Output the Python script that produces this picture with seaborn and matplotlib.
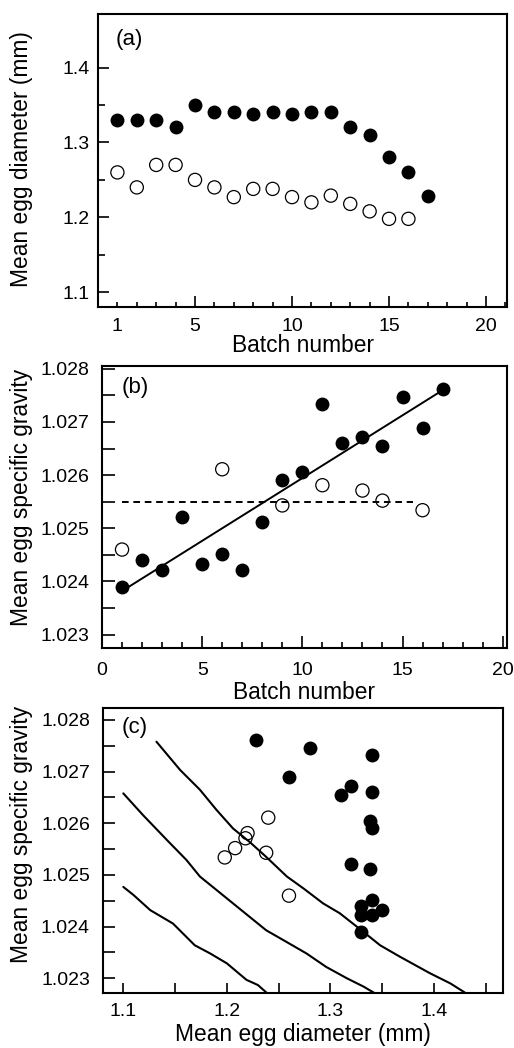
import numpy as np
import pandas as pd
import matplotlib
matplotlib.use("Agg")
import matplotlib.pyplot as plt
from matplotlib.ticker import MultipleLocator, FixedLocator, FormatStrFormatter
import seaborn as sns

# ---- data -----------------------------------------------------------------
batches_solid = list(range(1, 18))
batches_open = list(range(1, 17))

# mean egg diameter (mm) per batch
diam_solid = [1.33, 1.33, 1.33, 1.32, 1.35, 1.34, 1.34, 1.338, 1.34, 1.338,
              1.34, 1.34, 1.32, 1.31, 1.28, 1.26, 1.228]
diam_open = [1.26, 1.24, 1.27, 1.27, 1.25, 1.24, 1.227, 1.238, 1.238, 1.227,
             1.22, 1.229, 1.218, 1.208, 1.198, 1.198]

# mean egg specific gravity per batch
sg_solid = [1.02390, 1.02440, 1.02422, 1.02522, 1.02433, 1.02451, 1.02422,
            1.02511, 1.02590, 1.02605, 1.02733, 1.02661, 1.02672, 1.02655,
            1.02746, 1.02689, 1.02762]
sg_open_batches = [1, 6, 9, 11, 13, 14, 16]
sg_open = [1.02460, 1.02611, 1.02543, 1.02581, 1.02571, 1.02552, 1.02534]

# neutral-buoyancy isolines (diameter, specific gravity)
iso1_diam = [1.132, 1.155, 1.174, 1.190, 1.206, 1.222, 1.238, 1.258, 1.274,
             1.293, 1.309, 1.330, 1.348, 1.367, 1.396, 1.416, 1.431]
iso1_sg = [1.02758, 1.02703, 1.02665, 1.02626, 1.02590, 1.02564, 1.02535,
           1.02497, 1.02474, 1.02445, 1.02426, 1.02393, 1.02364, 1.02342,
           1.02310, 1.02290, 1.02271]
iso2_diam = [1.100, 1.119, 1.142, 1.161, 1.174, 1.190, 1.206, 1.222, 1.238,
             1.258, 1.277, 1.296, 1.316, 1.332, 1.343]
iso2_sg = [1.02658, 1.02616, 1.02568, 1.02529, 1.02497, 1.02471, 1.02445,
           1.02419, 1.02393, 1.02370, 1.02348, 1.02322, 1.02300, 1.02284,
           1.02271]
iso3_diam = [1.100, 1.110, 1.126, 1.148, 1.169, 1.184, 1.200, 1.219, 1.230,
             1.2385]
iso3_sg = [1.02477, 1.02461, 1.02432, 1.02406, 1.02364, 1.02348, 1.02329,
           1.02297, 1.02287, 1.02272]

df_solid = pd.DataFrame({"batch": batches_solid, "diameter": diam_solid,
                         "sg": sg_solid})
df_open = pd.DataFrame({"batch": batches_open, "diameter": diam_open})
df_open_sg = pd.DataFrame({"batch": sg_open_batches, "sg": sg_open}).merge(
    df_open, on="batch")

# ---- style ----------------------------------------------------------------
sns.set_style("ticks")
plt.rcParams["font.family"] = ["Liberation Sans", "DejaVu Sans"]
plt.rcParams["axes.linewidth"] = 1.5
plt.rcParams["lines.scale_dashes"] = False
plt.rcParams["text.color"] = "black"
plt.rcParams["axes.labelcolor"] = "black"
plt.rcParams["axes.edgecolor"] = "black"

TICK_FS = 14
LABEL_FS = 16.4
PANEL_FS = 16

W, H = 514, 1048
fig = plt.figure(figsize=(W / 100, H / 100), dpi=100)


def axes_px(left, top, right, bottom):
    return fig.add_axes([left / W, 1 - bottom / H, (right - left) / W,
                         (bottom - top) / H])


ax_a = axes_px(98, 14, 507, 307)
ax_b = axes_px(102, 366, 506.7, 648.3)
ax_c = axes_px(103.3, 708.3, 503.3, 993.3)

solid_kw = dict(color="black", s=100, linewidth=0, zorder=3)
open_kw = dict(facecolor="none", edgecolor="black", s=90, linewidth=0.9,
               zorder=3)

# ---- (a) diameter vs batch -------------------------------------------------
sns.scatterplot(data=df_solid, x="batch", y="diameter", ax=ax_a, **solid_kw)
sns.scatterplot(data=df_open, x="batch", y="diameter", ax=ax_a, **open_kw)
ax_a.set_xlim(0, 21.08)
ax_a.set_ylim(1.0803, 1.4715)
ax_a.xaxis.set_major_locator(FixedLocator([1, 5, 10, 15, 20]))
ax_a.xaxis.set_minor_locator(MultipleLocator(1))
ax_a.yaxis.set_major_locator(FixedLocator([1.1, 1.2, 1.3, 1.4]))
ax_a.yaxis.set_minor_locator(FixedLocator([1.15, 1.25, 1.35]))
ax_a.yaxis.set_major_formatter(FormatStrFormatter("%.1f"))
ax_a.tick_params(axis="x", which="major", length=8, pad=8)
ax_a.tick_params(axis="x", which="minor", length=3.6)
ax_a.tick_params(axis="y", which="major", length=8, pad=6.3)
ax_a.tick_params(axis="y", which="minor", length=5)
ax_a.set_xlabel("Batch number", fontsize=LABEL_FS, labelpad=-0.5)
ax_a.set_ylabel("Mean egg diameter (mm)", fontsize=LABEL_FS)
ax_a.yaxis.set_label_coords(-0.159, 0.505)
ax_a.text(0.0425, 0.95, "(a)", transform=ax_a.transAxes, ha="left",
          va="top", fontsize=PANEL_FS)

# ---- (b) specific gravity vs batch ---------------------------------------
sns.regplot(data=df_solid, x="batch", y="sg", scatter=False, ci=None,
            truncate=True, color="black", line_kws={"lw": 1.4, "zorder": 2},
            ax=ax_b)
mean_open = float(np.mean(sg_open))
ax_b.plot([1, 15.5], [mean_open, mean_open], color="black", lw=1.4,
          dashes=(4.8, 3.4), zorder=2)
sns.scatterplot(data=df_solid, x="batch", y="sg", ax=ax_b, **solid_kw)
sns.scatterplot(data=df_open_sg, x="batch", y="sg", ax=ax_b, **open_kw)
ax_b.set_xlim(0, 20.2)
ax_b.set_ylim(1.022743, 1.028052)
ax_b.xaxis.set_major_locator(MultipleLocator(5))
ax_b.xaxis.set_minor_locator(MultipleLocator(1))
ax_b.yaxis.set_major_locator(MultipleLocator(0.001))
ax_b.yaxis.set_minor_locator(MultipleLocator(0.0005))
ax_b.yaxis.set_major_formatter(FormatStrFormatter("%.3f"))
ax_b.tick_params(axis="x", which="major", length=8.5, pad=9.6)
ax_b.tick_params(axis="x", which="minor", length=4.5)
ax_b.tick_params(axis="y", which="both", length=9.5, pad=9.1)
ax_b.set_xlabel("Batch number", fontsize=LABEL_FS, labelpad=2)
ax_b.set_ylabel("Mean egg specific gravity", fontsize=LABEL_FS)
ax_b.yaxis.set_label_coords(-0.170, 0.536)
ax_b.text(0.048, 0.96, "(b)", transform=ax_b.transAxes, ha="left",
          va="top", fontsize=PANEL_FS)

# ---- (c) specific gravity vs diameter -------------------------------------
for xs, ys in [(iso1_diam, iso1_sg), (iso2_diam, iso2_sg),
               (iso3_diam, iso3_sg)]:
    sns.lineplot(x=xs, y=ys, sort=False, estimator=None, color="black",
                 lw=1.5, ax=ax_c, zorder=2)
sns.scatterplot(data=df_solid, x="diameter", y="sg", ax=ax_c, **solid_kw)
sns.scatterplot(data=df_open_sg, x="diameter", y="sg", ax=ax_c, **open_kw)
ax_c.set_xlim(1.0807, 1.467)
ax_c.set_ylim(1.02271, 1.028226)
ax_c.xaxis.set_major_locator(MultipleLocator(0.1))
ax_c.xaxis.set_minor_locator(MultipleLocator(0.05))
ax_c.xaxis.set_major_formatter(FormatStrFormatter("%.1f"))
ax_c.yaxis.set_major_locator(MultipleLocator(0.001))
ax_c.yaxis.set_minor_locator(MultipleLocator(0.0005))
ax_c.yaxis.set_major_formatter(FormatStrFormatter("%.3f"))
ax_c.tick_params(axis="x", which="both", length=7.2, pad=7.0)
ax_c.tick_params(axis="y", which="both", length=8.6, pad=9.6)
ax_c.set_xlabel("Mean egg diameter (mm)", fontsize=LABEL_FS, labelpad=2.0)
ax_c.set_ylabel("Mean egg specific gravity", fontsize=LABEL_FS)
ax_c.yaxis.set_label_coords(-0.175, 0.559)
ax_c.text(0.045, 0.968, "(c)", transform=ax_c.transAxes, ha="left",
          va="top", fontsize=PANEL_FS)

# shared tick styling
for ax in (ax_a, ax_b, ax_c):
    ax.tick_params(which="both", direction="in", top=False, right=False,
                   width=1.2, labelsize=TICK_FS, colors="black")
    ax.xaxis.label.set_color("black")
    ax.yaxis.label.set_color("black")
    for sp in ax.spines.values():
        sp.set_visible(True)
        sp.set_linewidth(1.5)
        sp.set_color("black")

# the batch-1 tick in panel (a) is a minor-length tick carrying a label
fig.canvas.draw()
ax_a.xaxis.get_major_ticks()[0].tick1line.set_markersize(3.6)

fig.savefig("out.png", dpi=100)
